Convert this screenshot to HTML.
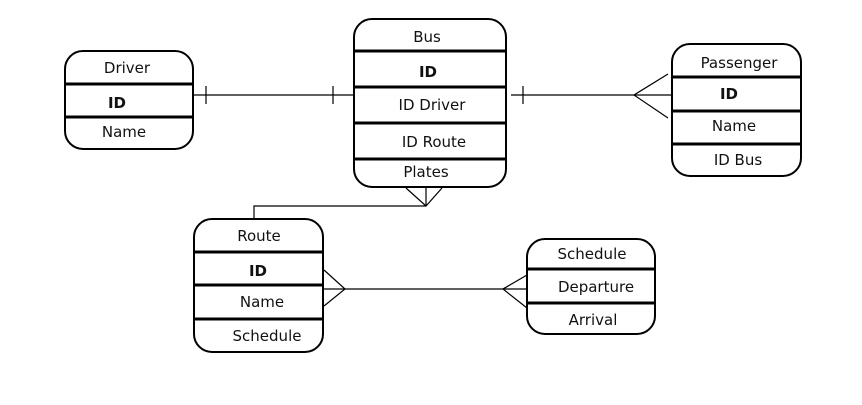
<!DOCTYPE html>
<html><head><meta charset="utf-8"><style>
html,body{margin:0;padding:0;background:#fff;}
svg text{font-family:"DejaVu Sans","Liberation Sans",sans-serif;font-size:15px;fill:#111;text-anchor:middle;}
</style></head><body>
<svg width="862" height="400" viewBox="0 0 862 400" xmlns="http://www.w3.org/2000/svg">
<g fill="none" stroke="#000" stroke-width="2">
<rect x="65" y="51" width="128" height="98" rx="18"/>
<rect x="354" y="19" width="152" height="168" rx="18"/>
<rect x="672" y="44" width="129" height="132" rx="18"/>
<rect x="194" y="219" width="129" height="133" rx="18"/>
<rect x="527" y="239" width="128" height="95" rx="18"/>
</g>
<g stroke="#000" stroke-width="3">
<line x1="65" y1="84" x2="193" y2="84"/><line x1="65" y1="117" x2="193" y2="117"/>
<line x1="354" y1="51" x2="506" y2="51"/><line x1="354" y1="87" x2="506" y2="87"/><line x1="354" y1="123" x2="506" y2="123"/><line x1="354" y1="159" x2="506" y2="159"/>
<line x1="672" y1="77" x2="801" y2="77"/><line x1="672" y1="111" x2="801" y2="111"/><line x1="672" y1="144" x2="801" y2="144"/>
<line x1="194" y1="252" x2="323" y2="252"/><line x1="194" y1="285" x2="323" y2="285"/><line x1="194" y1="319" x2="323" y2="319"/>
<line x1="527" y1="269" x2="655" y2="269"/><line x1="527" y1="303" x2="655" y2="303"/>
</g>
<g stroke="#000" stroke-width="1.2" fill="none">
<line x1="193" y1="95" x2="354" y2="95"/>
<line x1="206" y1="86" x2="206" y2="104"/><line x1="333" y1="86" x2="333" y2="104"/>
<line x1="511" y1="95" x2="672" y2="95"/>
<line x1="523" y1="86" x2="523" y2="104"/>
<polyline points="668,74 634,95 668,118"/>
<polyline points="406,188 426,206 442,188"/>
<line x1="426" y1="188" x2="426" y2="206"/>
<polyline points="426,206 254,206 254,219"/>
<line x1="323" y1="289" x2="527" y2="289"/>
<polyline points="324,270 345,289 324,306"/>
<polyline points="527,275 503,289 527,308"/>
</g>
<text x="127" y="73">Driver</text>
<text x="117" y="108" font-weight="bold">ID</text>
<text x="124" y="137">Name</text>
<text x="427" y="42">Bus</text>
<text x="428" y="77" font-weight="bold">ID</text>
<text x="432" y="110">ID Driver</text>
<text x="434" y="147">ID Route</text>
<text x="426" y="177">Plates</text>
<text x="739" y="68">Passenger</text>
<text x="729" y="99" font-weight="bold">ID</text>
<text x="734" y="131">Name</text>
<text x="738" y="165">ID Bus</text>
<text x="259" y="241">Route</text>
<text x="258" y="276" font-weight="bold">ID</text>
<text x="262" y="307">Name</text>
<text x="267" y="341">Schedule</text>
<text x="592" y="259">Schedule</text>
<text x="596" y="292">Departure</text>
<text x="593" y="325">Arrival</text>
</svg>
</body></html>
